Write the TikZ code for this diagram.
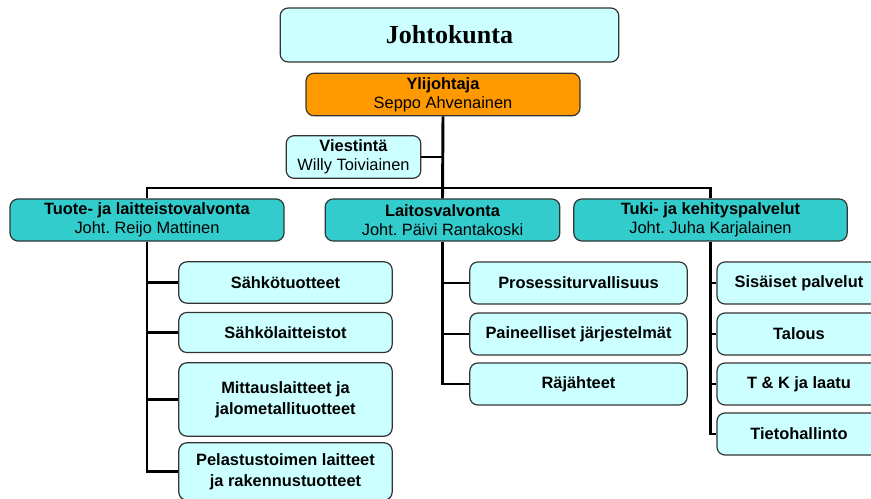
\documentclass[tikz,border=0pt]{standalone}
\usepackage{fontspec}
\setmainfont{Liberation Sans}
\newfontfamily\timesfont{Liberation Serif}
\definecolor{paleCyan}{RGB}{204,255,255}
\definecolor{boardOrange}{RGB}{255,153,0}
\definecolor{unitTeal}{RGB}{51,204,204}
\frenchspacing

\tikzset{every picture/.style={line width=0.75pt}}

\begin{document}
\begin{tikzpicture}[x=0.75pt,y=0.75pt,yscale=-1,xscale=1,
  orgbox/.style={draw=black!80,line width=0.9pt,rounded corners=6pt,inner sep=0pt,align=center,font=\fontsize{12.3}{14.5}\selectfont},
  paleBox/.style={orgbox,fill=paleCyan},
  unitBox/.style={orgbox,fill=unitTeal},
  subBox/.style={paleBox,minimum width=163pt,font=\fontsize{12.3}{15.5}\selectfont\bfseries},
  link/.style={line width=2.2pt}]
\useasboundingbox (0,0) rectangle (871,499);
\clip (0,0) rectangle (871,499);

% Board and director
\node [paleBox,minimum width=254pt,minimum height=40.5pt,font=\timesfont\fontsize{19.5}{22}\selectfont\bfseries] (joht) at (449.5,35) {Johtokunta};
\node [orgbox,fill=boardOrange,minimum width=205.5pt,minimum height=32pt] (ylij) at (443,94.5) {\textbf{Ylijohtaja}\\Seppo Ahvenainen};
\node [paleBox,minimum width=101pt,minimum height=32pt] (viest) at (353.5,157) {\textbf{Viestintä}\\Willy Toiviainen};

% Units
\node [unitBox,minimum width=205.5pt,minimum height=31.5pt] (tuote) at (147,220) {\textbf{Tuote- ja laitteistovalvonta}\\Joht. Reijo Mattinen};
\node [unitBox,minimum width=176pt,minimum height=31.5pt] (laitos) at (442.5,220) {\textbf{Laitosvalvonta}\\Joht. Päivi Rantakoski};
\node [unitBox,minimum width=205pt,minimum height=31.5pt] (tuki) at (710.5,220) {\textbf{Tuki- ja kehityspalvelut}\\Joht. Juha Karjalainen};

% Sub units
\node [subBox,minimum width=160pt,minimum height=31pt] (sahkotuot) at (285.5,282.5) {Sähkötuotteet};
\node [subBox,minimum width=160pt,minimum height=30pt] (sahkolait) at (285.5,332.5) {Sähkölaitteistot};
\node [subBox,minimum width=160pt,minimum height=55pt] (mittaus) at (285.5,399.5) {Mittauslaitteet ja\\jalometallituotteet};
\node [subBox,minimum width=160pt,minimum height=43pt] (pelastus) at (285.5,471.5) {Pelastustoimen laitteet\\ja rakennustuotteet};

\node [subBox,minimum width=163pt,minimum height=31.5pt] (prosessi) at (578.5,283) {Prosessiturvallisuus};
\node [subBox,minimum width=163pt,minimum height=31.5pt] (paine) at (578.5,334) {Paineelliset järjestelmät};
\node [subBox,minimum width=163pt,minimum height=31.5pt] (rajaht) at (578.5,384) {Räjähteet};

\node [subBox,minimum width=123pt,minimum height=31.5pt] (sisaiset) at (799,283) {Sisäiset palvelut};
\node [subBox,minimum width=123pt,minimum height=31.5pt] (talous) at (799,334) {Talous};
\node [subBox,minimum width=123pt,minimum height=31.5pt] (tk) at (799,384) {T \& K ja laatu};
\node [subBox,minimum width=123pt,minimum height=31.5pt] (tieto) at (799,434) {Tietohallinto};

% Connectors
\coordinate (bar) at (443,188);
\draw [link] (ylij.south) -- (laitos.north);
\draw [link] (viest.east) -- (viest.east -| ylij.south);
\draw [link] (tuote.north) |- (bar) -| (tuki.north);
\foreach \c in {sahkotuot,sahkolait,mittaus,pelastus}
  \draw [link] (tuote.south) |- (\c.west);
\foreach \c in {prosessi,paine,rajaht}
  \draw [link] (laitos.south) |- (\c.west);
\foreach \c in {sisaiset,talous,tk,tieto}
  \draw [link] (tuki.south) |- (\c.west);

\end{tikzpicture}
\end{document}
